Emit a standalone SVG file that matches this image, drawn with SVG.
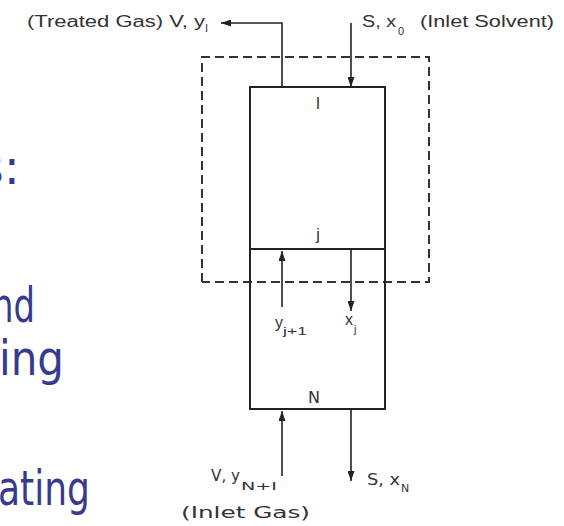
<svg xmlns="http://www.w3.org/2000/svg" width="564" height="526" viewBox="0 0 564 526">
<style>
.big{font-family:"DejaVu Sans","Noto Sans",sans-serif;font-size:48px;fill:#363B8E}
.lbl{font-family:"Liberation Sans",Arial,sans-serif;font-size:16px;fill:#333}
.sub{font-family:"Liberation Sans",Arial,sans-serif;font-size:11px;fill:#333}
.mech{font-family:"DejaVu Sans",sans-serif;font-size:16px;fill:#333}
.msub{font-family:"DejaVu Sans",sans-serif;font-size:11px;fill:#333}
.box{fill:none;stroke:#222;stroke-width:2}
.dash{fill:none;stroke:#333;stroke-width:2;stroke-dasharray:9 5}
.con{fill:none;stroke:#222;stroke-width:1.6;marker-end:url(#ah)}
</style>
<defs>
<marker id="ah" markerUnits="userSpaceOnUse" markerWidth="10" markerHeight="7" refX="10" refY="3.5" orient="auto">
<path d="M0,0 L10,3.5 L0,7 z" fill="#222"/>
</marker>
</defs>
<rect width="564" height="526" fill="#fff"/>
<g id="slide-text">
<text class="big" x="20" y="184" text-anchor="end">s:</text>
<text class="big" x="-8" y="322" textLength="43" lengthAdjust="spacingAndGlyphs">nd</text>
<text class="big" x="-1" y="375" textLength="65" lengthAdjust="spacingAndGlyphs">ing</text>
<text class="big" x="-2" y="505" textLength="92" lengthAdjust="spacingAndGlyphs">ating</text>
</g>
<g id="envelope">
<path class="dash" d="M202,282 V57 H429 V282 H202"/>
</g>
<g id="column">
<rect class="box" x="250" y="87" width="135" height="322"/>
<line class="box" x1="250" y1="249" x2="385" y2="249"/>
<text class="lbl" x="318" y="109" text-anchor="middle" font-size="17">I</text>
<text class="lbl" x="318" y="240" text-anchor="middle" font-size="18">j</text>
<text class="mech" x="314" y="403" text-anchor="middle" font-size="19">N</text>
</g>
<g id="connectors">
<path class="con" d="M282,87 V23 H221"/>
<path class="con" d="M351,23 V87"/>
<path class="con" d="M282,307 V251"/>
<path class="con" d="M351,250 V311"/>
<path class="con" d="M282,476 V411"/>
<path class="con" d="M351,410 V481"/>
</g>
<g id="labels">
<text class="lbl" x="27" y="27" textLength="178" lengthAdjust="spacingAndGlyphs">(Treated Gas) V, y</text>
<text class="sub" x="205" y="32">I</text>
<text class="lbl" x="362" y="27" textLength="34" lengthAdjust="spacingAndGlyphs">S, x</text>
<text class="sub" x="398" y="35">0</text>
<text class="lbl" x="420" y="27" textLength="134" lengthAdjust="spacingAndGlyphs">(Inlet Solvent)</text>
<text class="lbl" x="275" y="328">y</text>
<text class="sub" x="283" y="335" textLength="24" lengthAdjust="spacingAndGlyphs">j+1</text>
<text class="lbl" x="345" y="325">x</text>
<text class="sub" x="354" y="333">j</text>
<text class="mech" x="211" y="481" textLength="29" lengthAdjust="spacingAndGlyphs">V, y</text>
<text class="msub" x="241" y="490" textLength="36" lengthAdjust="spacingAndGlyphs">N+I</text>
<text class="mech" x="367" y="485" textLength="33" lengthAdjust="spacingAndGlyphs">S, x</text>
<text class="msub" x="401" y="492">N</text>
<text class="mech" x="181" y="518" font-size="18" textLength="129" lengthAdjust="spacingAndGlyphs">(Inlet Gas)</text>
</g>
</svg>
